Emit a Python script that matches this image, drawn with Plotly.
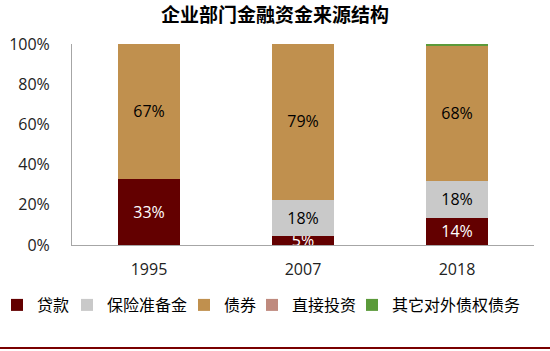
import plotly.graph_objects as go

years = ["1995", "2007", "2018"]
series_names = ["贷款", "保险准备金", "债券", "直接投资", "其它对外债权债务"]
loans = [33.0, 4.6, 13.6]
insurance = [0.0, 17.6, 18.2]
bonds = [67.0, 78.5, 67.6]
direct_invest = [0.0, 0.0, 0.0]
other = [0.0, 0.0, 0.6]
y_ticks = [0, 20, 40, 60, 80, 100]
y_tick_labels = ["0%", "20%", "40%", "60%", "80%", "100%"]

colors = ["#630000", "#C9C9C9", "#C0904E", "#BF8A7E", "#5B9A3A"]
values = [loans, insurance, bonds, direct_invest, other]
show_text = [True, True, True, False, False]
text_colors = ["white", "black", "black", "black", "black"]

# plot area geometry (pixels) for legend placement
L, R, T, B, W, H = 72, 16, 44, 106, 550, 351
pw, ph = W - L - R, H - T - B
legend_px = [-3, 67, 184, 252, 352]
legend_py = 305

CJK = "Noto Sans CJK SC"
LAT = "Open Sans, Liberation Sans"
fig = go.Figure()
legend_ids = ["legend", "legend2", "legend3", "legend4", "legend5"]
for name, vals, col, st, tc, lid in zip(series_names, values, colors, show_text, text_colors, legend_ids):
    fig.add_trace(go.Bar(
        x=years, y=vals, name=name, marker=dict(color=col, line=dict(width=0)),
        texttemplate=[("%{y:.0f}%" if (st and v > 0) else "") for v in vals],
        textposition="inside", insidetextanchor="middle",
        textfont=dict(color=tc, size=16, family=LAT),
        constraintext="none", legend=lid,
    ))

layout_legends = {}
for lid, px in zip(legend_ids, legend_px):
    layout_legends[lid] = dict(
        orientation="h", x=(px - L) / pw, xanchor="left",
        y=(ph - (legend_py - T)) / ph, yanchor="middle",
        font=dict(family=CJK, size=16, color="black"),
        itemwidth=30, bgcolor="rgba(0,0,0,0)",
    )

fig.update_layout(
    barmode="stack",
    bargap=0.6,
    width=W, height=H,
    margin=dict(l=L, r=R, t=T, b=B, autoexpand=False),
    plot_bgcolor="white", paper_bgcolor="white",
    title=dict(text="<b>企业部门金融资金来源结构</b>", x=0.5, xanchor="center",
               y=0.955, yanchor="middle", font=dict(family=CJK, size=19, color="black")),
    yaxis=dict(range=[0, 100], tickvals=y_ticks, ticktext=y_tick_labels,
               showgrid=False, showline=True, linecolor="#A6A6A6", linewidth=1,
               ticks="", tickfont=dict(family=LAT, size=16, color="#222"),
               zeroline=False, ticklabelstandoff=18),
    xaxis=dict(showline=True, linecolor="#A6A6A6", linewidth=1, ticks="",
               tickfont=dict(family=LAT, size=16, color="#222"), ticklabelstandoff=10),
    showlegend=True,
    **layout_legends,
)
fig.add_shape(type="line", xref="paper", yref="paper", x0=-0.16, x1=1.04,
              y0=-0.512, y1=-0.512, line=dict(color="#7A0000", width=2))
fig.write_html("out.html")
